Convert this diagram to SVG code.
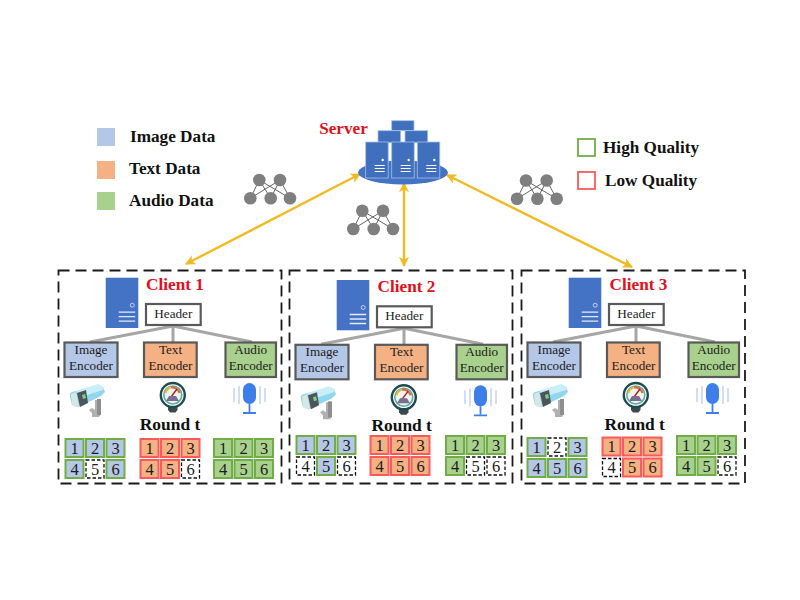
<svg xmlns="http://www.w3.org/2000/svg" width="800" height="600" viewBox="0 0 800 600">
<style>
text{font-family:"Liberation Serif","Times New Roman",serif;fill:#1c1c1c}
.b{font-weight:bold;fill:#111;font-size:17.2px}
.red{font-weight:bold;fill:#e0101c;font-size:17.2px;text-anchor:middle}
.rt{font-weight:bold;fill:#111;font-size:17.4px;text-anchor:middle}
.e{font-size:13.2px;text-anchor:middle}
.c{font-size:16.5px;text-anchor:middle}
.box{fill:none;stroke:#1a1a1a;stroke-width:1.8;stroke-dasharray:11 6}
.hdr{fill:#fff;stroke:#595959;stroke-width:2.2}
.enc{stroke:#595959;stroke-width:2.2}
.ib{fill:#b4c7e7}.tb{fill:#f4b183}.ab{fill:#a9d18e}
.sg{stroke:#70ad47;stroke-width:2}
.sr{stroke:#fa5a5a;stroke-width:2}
.d{fill:#fff;stroke:#111;stroke-width:1.3;stroke-dasharray:3.5 2}
.stem{stroke:#a6a6a6;stroke-width:3;fill:none}
.srv{fill:#3f6fbd;stroke:#a9c1e6;stroke-width:.8}
.lnk{stroke:#f0bb22;stroke-width:2.4;fill:none;marker-start:url(#ah);marker-end:url(#ah)}
.nl{stroke:#555;stroke-width:.9}
.nc{fill:#7f7f7f}
</style>
<defs>
<marker id="ah" viewBox="0 0 10 10" refX="9" refY="5" markerWidth="4.2" markerHeight="4.2" orient="auto-start-reverse"><path d="M0 0L10 5L0 10L2.5 5Z" fill="#f0bb22"/></marker>
<g id="tower">
<rect class="srv" x="0" y="0" width="22.5" height="36"/>
<circle cx="17" cy="18" r="1.2" fill="#fff"/>
<path d="M9 23.5h10M9 26.5h10M9 29.5h10" stroke="#fff" stroke-width="1"/>
</g>
<g id="net">
<line class="nl" x1="9" y1="0" x2="0" y2="18.3"/><line class="nl" x1="9" y1="0" x2="20.4" y2="18.3"/><line class="nl" x1="9" y1="0" x2="39.7" y2="18.3"/>
<line class="nl" x1="29.7" y1="0" x2="0" y2="18.3"/><line class="nl" x1="29.7" y1="0" x2="20.4" y2="18.3"/><line class="nl" x1="29.7" y1="0" x2="39.7" y2="18.3"/>
<circle class="nc" cx="9" cy="0" r="6.3"/><circle class="nc" cx="29.7" cy="0" r="6.3"/><circle class="nc" cx="0" cy="18.3" r="6.3"/><circle class="nc" cx="20.4" cy="18.3" r="6.3"/><circle class="nc" cx="39.7" cy="18.3" r="6.3"/>
</g>
<g id="pc">
<rect x="0" y="0" width="32.6" height="50.3" fill="#4472c4"/>
<circle cx="26.5" cy="27.5" r="2" fill="none" stroke="#cfdcf2" stroke-width=".9"/>
<path d="M13 34.5h16.5M13 39h16.5M13 43.5h16.5" stroke="#e4ebf7" stroke-width="1.3"/>
</g>
<g id="cam">
<path d="M95 400h6v14l-2 3h-7v-4l-3-3 3-2 3 2z" fill="#b0b0b0"/>
<path d="M97 399h4v16h-4z" fill="#8e8e8e"/>
<path d="M72 392q-3 1-2 5l2 8 6 2 23-11 4-4-2-5-5-2z" fill="#8fd6ee"/>
<path d="M76 391l22-7 6 3-1 3-22 7z" fill="#c9eef8"/>
<path d="M77 393l9-3 2 13-8 4z" fill="#4c5658"/>
<path d="M71 394l5-2 3 14-4 1-3-3z" fill="#d8e6e6"/>
<path d="M82 395l3-1 1 4-3 1z" fill="#7ccf8f"/>
</g>
<g id="gauge">
<path d="M168 407h9.500v3l-2 2.500h-5.500l-2-2.500z" fill="#3b4a4a"/>
<circle cx="172.800" cy="395" r="12" fill="#fff" stroke="#1f4a52" stroke-width="2.400"/>
<circle cx="172.800" cy="395" r="9" fill="#eef5ee" stroke="#5fae9f" stroke-width="1.600"/>
<path d="M165.500 393a7.500 7.500 0 0 1 5-5.500" stroke="#e8b93a" stroke-width="2.200" fill="none"/>
<path d="M171 387.500a7.500 7.500 0 0 1 8.500 5.500" stroke="#e2653f" stroke-width="2.200" fill="none"/>
<path d="M171 397l6-8" stroke="#a02020" stroke-width="1.400"/>
<path d="M166 401l3-5h7l3 5z" fill="#7d6d92"/>
</g>
<g id="mic">
<rect x="243" y="383" width="13" height="21" rx="6.500" fill="#3d7ee8"/>
<path d="M249.500 404v8M243 413h13" stroke="#3d7ee8" stroke-width="1.800"/>
<path d="M234 388v14M239 386v18M260 386v18M265 388v14" stroke="#c5d7f4" stroke-width="1.600"/>
</g>
</defs>
<rect width="800" height="600" fill="#fff"/>

<g id="legend">
<rect x="97" y="128" width="18" height="18" class="ib"/><text class="b" x="130" y="142">Image Data</text>
<rect x="97" y="161" width="18" height="18" class="tb"/><text class="b" x="129" y="174">Text Data</text>
<rect x="97" y="192" width="18" height="18" class="ab"/><text class="b" x="129" y="206">Audio Data</text>
<rect x="578" y="139" width="17" height="17" fill="#fff" stroke="#70ad47" stroke-width="1.800"/><text class="b" x="603" y="153">High Quality</text>
<rect x="578" y="172" width="17" height="17" fill="#fff" stroke="#fa5a5a" stroke-width="1.800"/><text class="b" x="605" y="186">Low Quality</text>
</g>

<g id="connectors">
<line class="lnk" x1="360" y1="174" x2="186" y2="264"/>
<line class="lnk" x1="404" y1="183" x2="404" y2="266"/>
<line class="lnk" x1="447" y1="175" x2="632" y2="267"/>
</g>

<g id="server">
<ellipse cx="403" cy="172.500" rx="45" ry="12" fill="#4472c4"/>
<rect class="srv" x="391.700" y="120.700" width="22.300" height="10"/>
<rect class="srv" x="378" y="130.700" width="22.700" height="12"/>
<rect class="srv" x="405" y="130.700" width="22.700" height="12"/>
<use href="#tower" x="365.700" y="142"/><use href="#tower" x="391.700" y="142"/><use href="#tower" x="417.300" y="142"/>
<text class="red" x="343.500" y="134">Server</text>
</g>

<g id="networks">
<use href="#net" x="250.300" y="180"/>
<use href="#net" x="353.300" y="210.700"/>
<use href="#net" x="517" y="180.500"/>
</g>

<g id="client1">
<rect class="box" x="58.500" y="270.500" width="223" height="213"/>
<use href="#pc" x="105.700" y="277.700"/>
<text class="red" x="175" y="290">Client 1</text>
<path class="stem" d="M173 326L90 342M173 326V342M173 326L252 342"/>
<rect class="hdr" x="146" y="304" width="54.700" height="21"/><text class="e" x="173.300" y="318">Header</text>
<rect class="enc ib" x="64.500" y="342.500" width="53" height="34.500"/><text class="e" x="91" y="354">Image</text><text class="e" x="91" y="370">Encoder</text>
<rect class="enc tb" x="144" y="342.500" width="52.700" height="34.500"/><text class="e" x="170.500" y="354">Text</text><text class="e" x="170.500" y="370">Encoder</text>
<rect class="enc ab" x="225.500" y="342.500" width="50.500" height="34.500"/><text class="e" x="250.700" y="354">Audio</text><text class="e" x="250.700" y="370">Encoder</text>
<use href="#cam"/><use href="#gauge"/><use href="#mic"/>
<text class="rt" x="170" y="430">Round t</text>
<g transform="translate(65.500,439)">
<rect class="ib sg" width="18" height="18"/><text class="c" x="9" y="14.500">1</text>
<rect class="ib sg" x="20.500" width="18" height="18"/><text class="c" x="29.500" y="14.500">2</text>
<rect class="ib sg" x="41" width="18" height="18"/><text class="c" x="50" y="14.500">3</text>
<rect class="ib sg" y="21" width="18" height="18"/><text class="c" x="9" y="35.500">4</text>
<rect class="d" x="20.500" y="21" width="18" height="18"/><text class="c" x="29.500" y="35.500">5</text>
<rect class="ib sg" x="41" y="21" width="18" height="18"/><text class="c" x="50" y="35.500">6</text>
</g>
<g transform="translate(140.500,439)">
<rect class="tb sr" width="18" height="18"/><text class="c" x="9" y="14.500">1</text>
<rect class="tb sr" x="20.500" width="18" height="18"/><text class="c" x="29.500" y="14.500">2</text>
<rect class="tb sr" x="41" width="18" height="18"/><text class="c" x="50" y="14.500">3</text>
<rect class="tb sr" y="21" width="18" height="18"/><text class="c" x="9" y="35.500">4</text>
<rect class="tb sr" x="20.500" y="21" width="18" height="18"/><text class="c" x="29.500" y="35.500">5</text>
<rect class="d" x="41" y="21" width="18" height="18"/><text class="c" x="50" y="35.500">6</text>
</g>
<g transform="translate(214,439)">
<rect class="ab sg" width="18" height="18"/><text class="c" x="9" y="14.500">1</text>
<rect class="ab sg" x="20.500" width="18" height="18"/><text class="c" x="29.500" y="14.500">2</text>
<rect class="ab sg" x="41" width="18" height="18"/><text class="c" x="50" y="14.500">3</text>
<rect class="ab sg" y="21" width="18" height="18"/><text class="c" x="9" y="35.500">4</text>
<rect class="ab sg" x="20.500" y="21" width="18" height="18"/><text class="c" x="29.500" y="35.500">5</text>
<rect class="ab sg" x="41" y="21" width="18" height="18"/><text class="c" x="50" y="35.500">6</text>
</g>
</g>

<g id="client2">
<rect class="box" x="289.500" y="270.500" width="223" height="213"/>
<g transform="translate(231,2.300)">
<use href="#pc" x="105.700" y="277.700"/>
<text class="red" x="175.500" y="290">Client 2</text>
<path class="stem" d="M173 326L90 342M173 326V342M173 326L252 342"/>
<rect class="hdr" x="146" y="304" width="54.700" height="21"/><text class="e" x="173.300" y="318">Header</text>
<rect class="enc ib" x="64.500" y="342.500" width="53" height="34.500"/><text class="e" x="91" y="354">Image</text><text class="e" x="91" y="370">Encoder</text>
<rect class="enc tb" x="144" y="342.500" width="52.700" height="34.500"/><text class="e" x="170.500" y="354">Text</text><text class="e" x="170.500" y="370">Encoder</text>
<rect class="enc ab" x="225.500" y="342.500" width="50.500" height="34.500"/><text class="e" x="250.700" y="354">Audio</text><text class="e" x="250.700" y="370">Encoder</text>
<use href="#cam"/><use href="#gauge"/><use href="#mic"/>
</g>
<text class="rt" x="401.700" y="431">Round t</text>
<g transform="translate(296.500,436)">
<rect class="ib sg" width="18" height="18"/><text class="c" x="9" y="14.500">1</text>
<rect class="ib sg" x="20.500" width="18" height="18"/><text class="c" x="29.500" y="14.500">2</text>
<rect class="ib sg" x="41" width="18" height="18"/><text class="c" x="50" y="14.500">3</text>
<rect class="d" y="21" width="18" height="18"/><text class="c" x="9" y="35.500">4</text>
<rect class="ib sg" x="20.500" y="21" width="18" height="18"/><text class="c" x="29.500" y="35.500">5</text>
<rect class="d" x="41" y="21" width="18" height="18"/><text class="c" x="50" y="35.500">6</text>
</g>
<g transform="translate(370.500,436)">
<rect class="tb sr" width="18" height="18"/><text class="c" x="9" y="14.500">1</text>
<rect class="tb sr" x="20.500" width="18" height="18"/><text class="c" x="29.500" y="14.500">2</text>
<rect class="tb sr" x="41" width="18" height="18"/><text class="c" x="50" y="14.500">3</text>
<rect class="tb sr" y="21" width="18" height="18"/><text class="c" x="9" y="35.500">4</text>
<rect class="tb sr" x="20.500" y="21" width="18" height="18"/><text class="c" x="29.500" y="35.500">5</text>
<rect class="tb sr" x="41" y="21" width="18" height="18"/><text class="c" x="50" y="35.500">6</text>
</g>
<g transform="translate(446,436)">
<rect class="ab sg" width="18" height="18"/><text class="c" x="9" y="14.500">1</text>
<rect class="ab sg" x="20.500" width="18" height="18"/><text class="c" x="29.500" y="14.500">2</text>
<rect class="ab sg" x="41" width="18" height="18"/><text class="c" x="50" y="14.500">3</text>
<rect class="ab sg" y="21" width="18" height="18"/><text class="c" x="9" y="35.500">4</text>
<rect class="d" x="20.500" y="21" width="18" height="18"/><text class="c" x="29.500" y="35.500">5</text>
<rect class="d" x="41" y="21" width="18" height="18"/><text class="c" x="50" y="35.500">6</text>
</g>
</g>

<g id="client3">
<rect class="box" x="521.500" y="270.500" width="223.500" height="213"/>
<g transform="translate(463,0)">
<use href="#pc" x="105.700" y="277.700"/>
<text class="red" x="175.500" y="290">Client 3</text>
<path class="stem" d="M173 326L90 342M173 326V342M173 326L252 342"/>
<rect class="hdr" x="146" y="304" width="54.700" height="21"/><text class="e" x="173.300" y="318">Header</text>
<rect class="enc ib" x="64.500" y="342.500" width="53" height="34.500"/><text class="e" x="91" y="354">Image</text><text class="e" x="91" y="370">Encoder</text>
<rect class="enc tb" x="144" y="342.500" width="52.700" height="34.500"/><text class="e" x="170.500" y="354">Text</text><text class="e" x="170.500" y="370">Encoder</text>
<rect class="enc ab" x="225.500" y="342.500" width="50.500" height="34.500"/><text class="e" x="250.700" y="354">Audio</text><text class="e" x="250.700" y="370">Encoder</text>
<use href="#cam"/><use href="#gauge"/><use href="#mic"/>
</g>
<text class="rt" x="634.700" y="430">Round t</text>
<g transform="translate(527.500,438)">
<rect class="ib sg" width="18" height="18"/><text class="c" x="9" y="14.500">1</text>
<rect class="d" x="20.500" width="18" height="18"/><text class="c" x="29.500" y="14.500">2</text>
<rect class="ib sg" x="41" width="18" height="18"/><text class="c" x="50" y="14.500">3</text>
<rect class="ib sg" y="21" width="18" height="18"/><text class="c" x="9" y="35.500">4</text>
<rect class="ib sg" x="20.500" y="21" width="18" height="18"/><text class="c" x="29.500" y="35.500">5</text>
<rect class="ib sg" x="41" y="21" width="18" height="18"/><text class="c" x="50" y="35.500">6</text>
</g>
<g transform="translate(602.500,437.500)">
<rect class="tb sr" width="18" height="18"/><text class="c" x="9" y="14.500">1</text>
<rect class="tb sr" x="20.500" width="18" height="18"/><text class="c" x="29.500" y="14.500">2</text>
<rect class="tb sr" x="41" width="18" height="18"/><text class="c" x="50" y="14.500">3</text>
<rect class="d" y="21" width="18" height="18"/><text class="c" x="9" y="35.500">4</text>
<rect class="tb sr" x="20.500" y="21" width="18" height="18"/><text class="c" x="29.500" y="35.500">5</text>
<rect class="tb sr" x="41" y="21" width="18" height="18"/><text class="c" x="50" y="35.500">6</text>
</g>
<g transform="translate(677,436)">
<rect class="ab sg" width="18" height="18"/><text class="c" x="9" y="14.500">1</text>
<rect class="ab sg" x="20.500" width="18" height="18"/><text class="c" x="29.500" y="14.500">2</text>
<rect class="ab sg" x="41" width="18" height="18"/><text class="c" x="50" y="14.500">3</text>
<rect class="ab sg" y="21" width="18" height="18"/><text class="c" x="9" y="35.500">4</text>
<rect class="ab sg" x="20.500" y="21" width="18" height="18"/><text class="c" x="29.500" y="35.500">5</text>
<rect class="d" x="41" y="21" width="18" height="18"/><text class="c" x="50" y="35.500">6</text>
</g>
</g>
</svg>
